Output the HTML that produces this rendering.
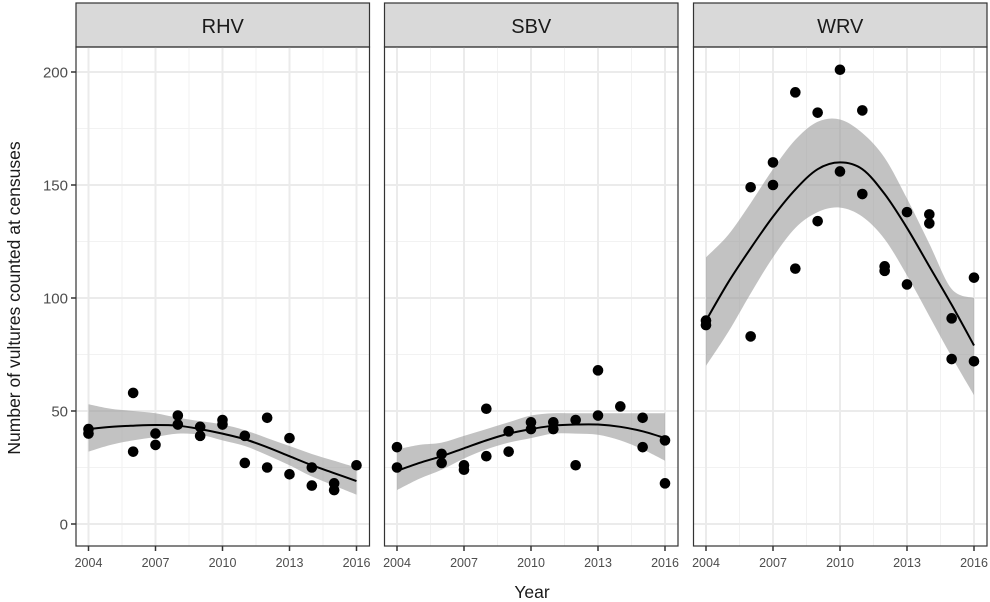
<!DOCTYPE html>
<html><head><meta charset="utf-8"><style>
html,body{margin:0;padding:0;background:#fff;}
svg{display:block;font-family:"Liberation Sans",Arial,sans-serif;}
</style></head><body>
<svg id="chart" width="990" height="602" viewBox="0 0 990 602"></svg>
<script>
const years = [2004,2005,2006,2007,2008,2009,2010,2011,2012,2013,2014,2015,2016];
const panelNames = ["RHV","SBV","WRV"];
const rhvX = [2004,2004,2006,2006,2007,2007,2008,2008,2009,2009,2010,2010,2011,2011,2012,2012,2013,2013,2014,2014,2015,2015,2016];
const rhvY = [42,40,58,32,40,35,48,44,43,39,46,44,39,27,47,25,38,22,25,17,18,15,26];
const sbvX = [2004,2004,2006,2006,2007,2007,2008,2008,2009,2009,2010,2010,2011,2011,2012,2012,2013,2013,2014,2015,2015,2016,2016];
const sbvY = [34,25,31,27,26,24,51,30,41,32,45,42,45,42,46,26,68,48,52,47,34,37,18];
const wrvX = [2004,2004,2006,2006,2007,2007,2008,2008,2009,2009,2010,2010,2011,2011,2012,2012,2013,2013,2014,2014,2015,2015,2016,2016];
const wrvY = [90,88,149,83,160,150,191,113,182,134,201,156,183,146,114,112,138,106,137,133,91,73,109,72];
const rhvFit = [42,43,43.5,43.8,43.5,42,40,37.5,34,30,26,22.5,19];
const rhvLo = [32,35,37,38.5,40,39.5,37,34.5,30.5,26,21,17,13];
const rhvHi = [53,51,50,49,47,45.5,44,41.5,38,34.5,31,28,25];
const sbvFit = [23.5,27,30,33.5,37,40,42,43.5,44,44,43,41,38];
const sbvLo = [15,20,24,29,33,36,38,40,40,39.5,37,33,28];
const sbvHi = [33,35,36,39,42,45,48,49,49,49,49,49,49];
const wrvFit = [90,107,122,136,148,157,160,157,146,131,114,97,79];
const wrvLo = [70,85,102,118,131,138,140,136,126,110,92,74,57];
const wrvHi = [118,128,142,157,170,178,179,173,162,144,124,104,100];
const xTicks = [2004,2007,2010,2013,2016];
const yTicks = [0,50,100,150,200];

const NS="http://www.w3.org/2000/svg";
const svg=document.getElementById('chart');
function mk(tag,attrs,parent){const e=document.createElementNS(NS,tag);for(const k in attrs)e.setAttribute(k,attrs[k]);(parent||svg).appendChild(e);return e;}
const panelLeft=[76,384.5,693.5];
const PW=293.5, PT=47, PB=546;
function yS(v){return 524-v*(524-72)/200;}
function xS(p,v){return panelLeft[p]+12.5+(v-2004)*(268/12);}
function smooth(pts){let d="M"+pts[0][0]+","+pts[0][1];
  for(let i=0;i<pts.length-1;i++){const p0=pts[Math.max(0,i-1)],p1=pts[i],p2=pts[i+1],p3=pts[Math.min(pts.length-1,i+2)];
    d+=" C"+(p1[0]+(p2[0]-p0[0])/6)+","+(p1[1]+(p2[1]-p0[1])/6)+" "+(p2[0]-(p3[0]-p1[0])/6)+","+(p2[1]-(p3[1]-p1[1])/6)+" "+p2[0]+","+p2[1];}
  return d;}
const data=[[rhvX,rhvY,rhvFit,rhvLo,rhvHi],[sbvX,sbvY,sbvFit,sbvLo,sbvHi],[wrvX,wrvY,wrvFit,wrvLo,wrvHi]];
for(let p=0;p<3;p++){
  const L=panelLeft[p];
  const g=mk('g',{});
  
  
  const st=mk('rect',{x:L,y:3,width:PW,height:44,fill:'#d9d9d9',stroke:'#333',"stroke-width":1.2},g);
  
  
  const stt=mk('text',{x:L+PW/2,y:33,"text-anchor":"middle","font-size":20,fill:'#1a1a1a'},g);
  stt.textContent=panelNames[p];
  
  
  for(let v=25;v<=200;v+=50){mk('line',{x1:L,x2:L+PW,y1:yS(v),y2:yS(v),stroke:'#f2f2f2',"stroke-width":1},g);}
  for(let v=2005.5;v<2016;v+=3){mk('line',{x1:xS(p,v),x2:xS(p,v),y1:PT,y2:PB,stroke:'#f2f2f2',"stroke-width":1},g);}
  yTicks.forEach(v=>mk('line',{x1:L,x2:L+PW,y1:yS(v),y2:yS(v),stroke:'#ebebeb',"stroke-width":2},g));
  xTicks.forEach(v=>mk('line',{x1:xS(p,v),x2:xS(p,v),y1:PT,y2:PB,stroke:'#ebebeb',"stroke-width":2},g));
  const [dx,dy,fit,lo,hi]=data[p];
  const hiPts=years.map((yr,i)=>[xS(p,yr),yS(hi[i])]);
  const loPts=years.map((yr,i)=>[xS(p,yr),yS(lo[i])]).reverse();
  const band=mk('path',{d:smooth(hiPts)+" L"+loPts[0][0]+","+loPts[0][1]+smooth(loPts).replace(/^M[^C]*/,' ')+"Z",fill:'#999',"fill-opacity":0.6},g);
  
  
  dx.forEach((x,i)=>{const c=mk('circle',{cx:xS(p,x),cy:yS(dy[i]),r:5.3,fill:'#000'},g);
    
    });
  const fl=mk('path',{d:smooth(years.map((yr,i)=>[xS(p,yr),yS(fit[i])])),fill:'none',stroke:'#000',"stroke-width":2},g);
  
  
  mk('rect',{x:L,y:PT,width:PW,height:PB-PT,fill:'none',stroke:'#333',"stroke-width":1.2},g);
  xTicks.forEach(v=>{mk('line',{x1:xS(p,v),x2:xS(p,v),y1:PB,y2:PB+5,stroke:'#333',"stroke-width":1.5},g);
    const t=mk('text',{x:xS(p,v),y:PB+21,"text-anchor":"middle","font-size":12.5,fill:'#4d4d4d'},g);t.textContent=v;
    
    });
}
yTicks.forEach(v=>{mk('line',{x1:71,x2:76,y1:yS(v),y2:yS(v),stroke:'#333',"stroke-width":1.5});
  const t=mk('text',{x:68,y:yS(v)+5.5,"text-anchor":"end","font-size":15,fill:'#4d4d4d'});t.textContent=v;
  
  });
const xt=mk('text',{x:532,y:598,"text-anchor":"middle","font-size":17.5,fill:'#1a1a1a'});xt.textContent='Year';


const yt=mk('text',{x:0,y:0,transform:'translate(20,298) rotate(-90)',"text-anchor":"middle","font-size":17.5,fill:'#1a1a1a'});yt.textContent='Number of vultures counted at censuses';


</script>
</body></html>
